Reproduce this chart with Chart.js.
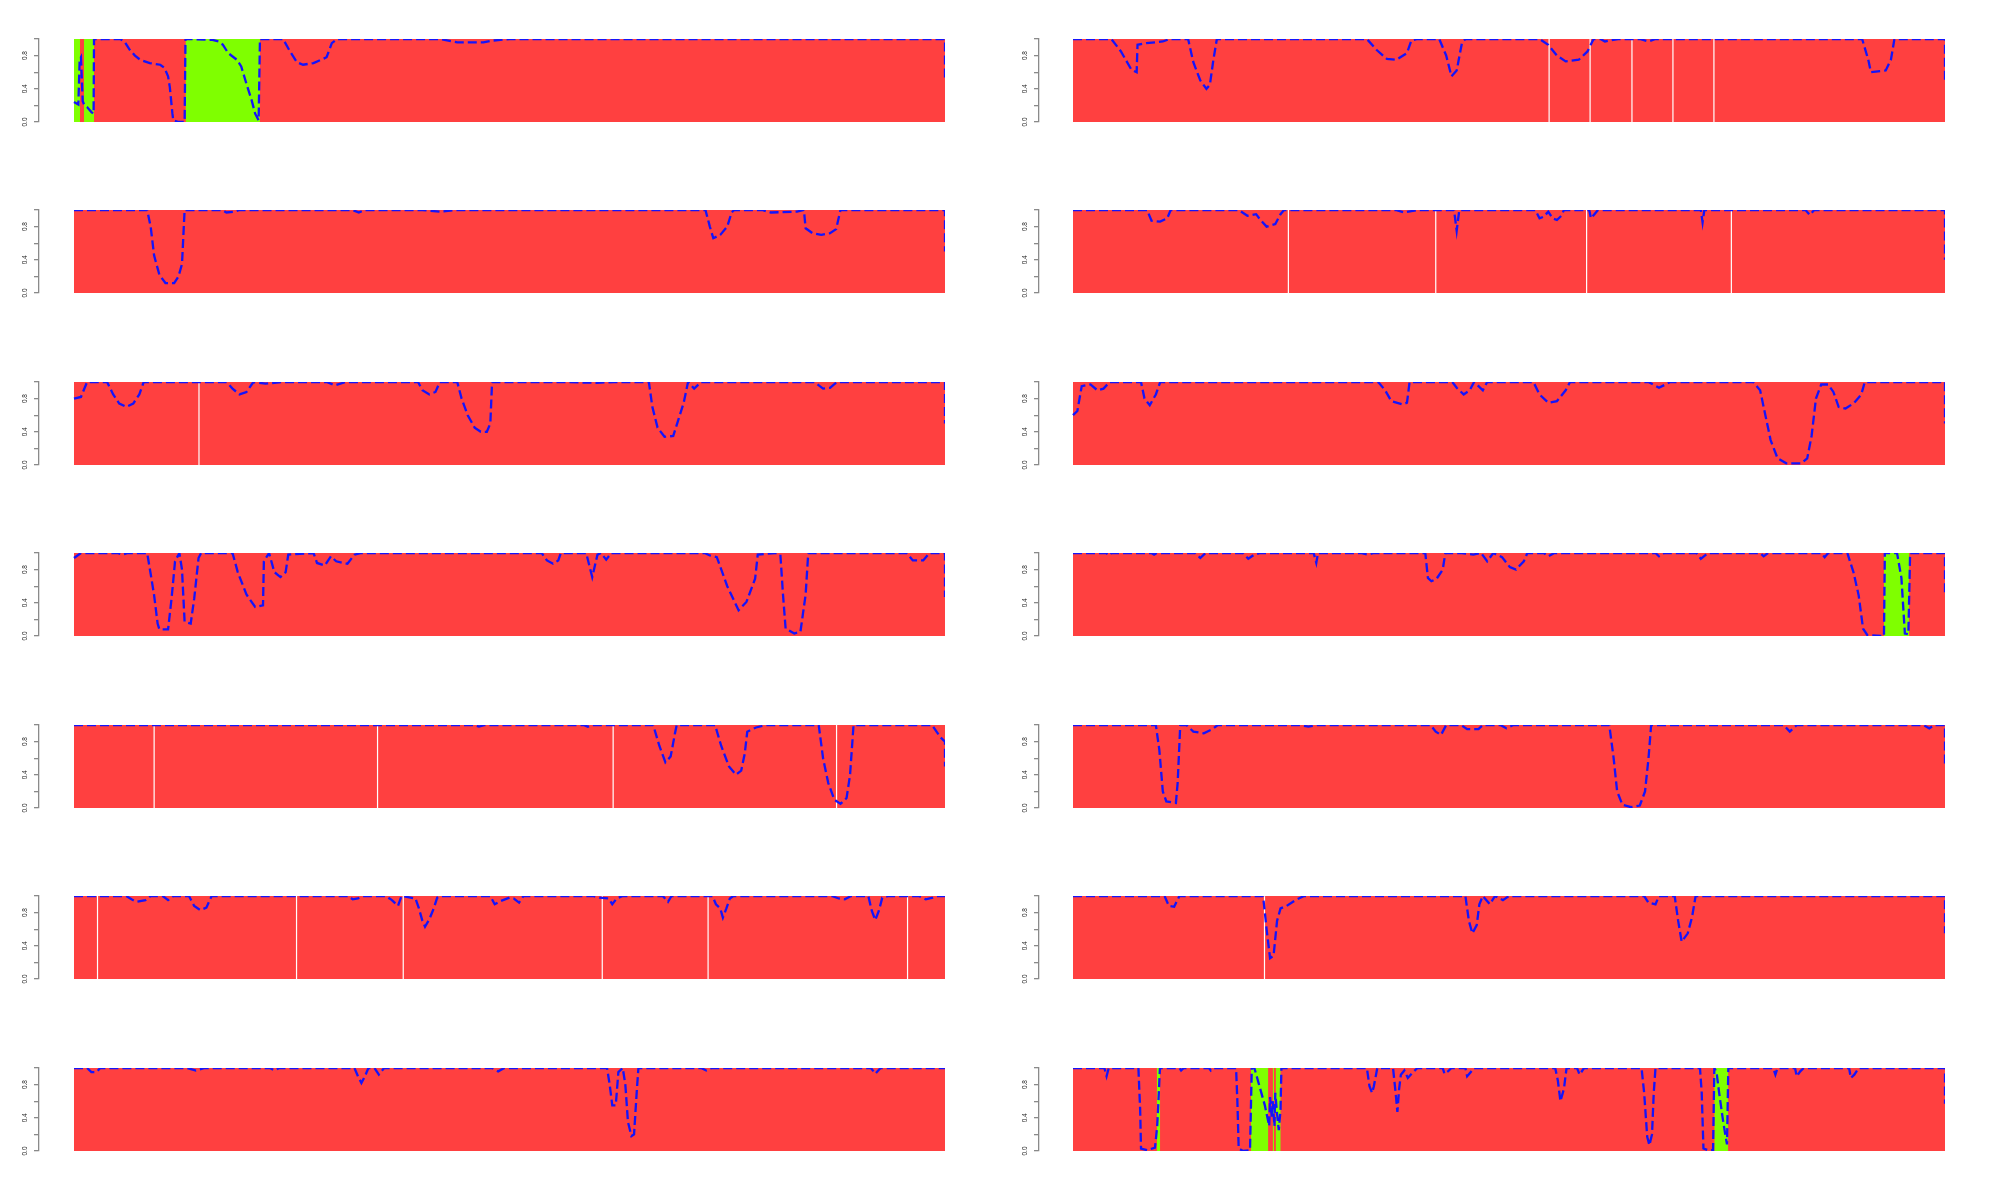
<!DOCTYPE html>
<html><head><meta charset="utf-8">
<script src="https://cdn.jsdelivr.net/npm/chart.js@4/dist/chart.umd.min.js"></script>
<style>
html,body{margin:0;padding:0;background:#fff;width:2000px;height:1200px;overflow:hidden}
canvas{position:absolute}
</style></head>
<body>
<script>
// ---------- data ----------
const yTickValues = [0, 0.2, 0.4, 0.6, 0.8, 1.0];
const yLabelValues = [0, 0.4, 0.8];
const yTickLabels = ['0.0', '0.4', '0.8'];

// panel 1 (row 1, left)
const p01Green = [[0,6.9],[11.5,23],[128,213.5]];
const p01White = [];
const p01Line = [[0,0.24],[5,0.21],[6.5,0.75],[8,0.78],[10,0.25],[12,0.2],[15,0.18],[20,0.12],[22.5,0.1],[23,1],[53,1],[58,0.97],[64,0.87],[70,0.8],[76,0.75],[87,0.71],[99,0.69],[104,0.65],[108,0.55],[110,0.42],[113,0.1],[114,0.02],[120,0],[127,0],[128,1],[159,0.99],[166,0.97],[171,0.93],[177,0.83],[187,0.75],[192,0.67],[198,0.46],[204,0.26],[208,0.1],[212,0.02],[213.5,1],[240,1],[248,0.85],[256,0.72],[263,0.69],[275,0.71],[290,0.78],[296,0.95],[302,1],[420,1],[440,0.96],[470,0.96],[480,0.98],[500,1],[1000,1],[1000,0.5]];

// panel 2 (row 1, right)
const p02Green = [];
const p02White = [546,593,641,688,735];
const p02Line = [[0,1],[44,1],[55,0.85],[67,0.63],[73,0.6],[74,0.93],[84,0.95],[103,0.97],[111,1],[132,1],[138,0.72],[146,0.5],[153,0.4],[157,0.45],[161,0.75],[165,1],[337,1],[348,0.87],[360,0.76],[371,0.75],[383,0.83],[388,0.98],[395,1],[420,1],[428,0.8],[434,0.55],[440,0.62],[446,0.95],[450,1],[535,1],[545,0.93],[555,0.8],[565,0.73],[580,0.75],[590,0.85],[597,1],[605,1],[610,0.97],[625,1],[650,1],[660,0.97],[668,1],[905,1],[912,0.75],[915,0.6],[932,0.62],[938,0.75],[942,1],[1000,1],[1000,0.5]];

// panel 3 (row 2, left)
const p03Green = [];
const p03White = [];
const p03Line = [[0,1],[84,1],[88,0.8],[92,0.45],[98,0.22],[105,0.12],[115,0.12],[120,0.2],[124,0.35],[127,1],[170,1],[175,0.97],[185,0.98],[190,1],[320,1],[327,0.97],[334,1],[400,1],[420,0.98],[440,1],[725,1],[730,0.8],[734,0.66],[742,0.7],[750,0.8],[755,0.97],[758,1],[790,1],[800,0.97],[830,0.98],[838,1],[840,0.78],[848,0.72],[858,0.7],[868,0.72],[875,0.77],[880,1],[1000,1],[1000,0.5]];

// panel 4 (row 2, right)
const p04Green = [];
const p04White = [247,416,589,755];
const p04Line = [[0,1],[85,1],[90,0.87],[100,0.86],[108,0.9],[112,1],[190,1],[200,0.93],[210,0.95],[215,0.88],[222,0.8],[232,0.83],[238,0.95],[242,1],[370,1],[380,0.97],[395,1],[437,1],[440,0.75],[443,1],[530,1],[535,0.9],[540,0.92],[545,0.98],[550,0.9],[555,0.88],[560,0.93],[563,1],[592,1],[594,0.9],[598,0.95],[602,1],[720,1],[722,0.85],[724,1],[840,1],[845,0.94],[850,1],[1000,1],[1000,0.4]];

// panel 5 (row 3, left)
const p05Green = [];
const p05White = [143.5];
const p05Line = [[0,0.8],[8,0.82],[15,1],[38,1],[45,0.85],[52,0.74],[60,0.7],[68,0.74],[75,0.85],[80,1],[175,1],[182,0.92],[190,0.85],[198,0.88],[206,1],[220,0.98],[240,1],[290,1],[300,0.96],[312,1],[395,1],[400,0.9],[408,0.85],[415,0.88],[420,1],[440,1],[445,0.8],[452,0.6],[460,0.45],[467,0.4],[474,0.4],[478,0.5],[480,1],[560,1],[600,0.99],[620,1],[660,1],[664,0.7],[670,0.45],[678,0.34],[688,0.35],[694,0.55],[700,0.75],[705,1],[712,0.92],[720,1],[850,1],[860,0.92],[868,0.93],[876,1],[1000,1],[1000,0.5]];

// panel 6 (row 3, right)
const p06Green = [];
const p06White = [];
const p06Line = [[0,0.6],[5,0.65],[10,0.95],[20,0.97],[28,0.9],[35,0.92],[42,1],[78,1],[82,0.8],[88,0.72],[95,0.85],[100,1],[350,1],[358,0.9],[365,0.77],[378,0.73],[383,0.75],[386,1],[435,1],[440,0.93],[448,0.85],[455,0.9],[460,1],[470,0.9],[475,1],[528,1],[535,0.85],[545,0.75],[555,0.77],[565,0.9],[570,1],[660,1],[672,0.93],[685,1],[780,1],[788,0.9],[794,0.6],[800,0.3],[808,0.08],[818,0.02],[835,0.02],[842,0.08],[847,0.35],[852,0.8],[858,0.97],[866,0.97],[872,0.88],[878,0.7],[886,0.68],[896,0.75],[904,0.85],[908,1],[1000,1],[1000,0.5]];

// panel 7 (row 4, left)
const p07Green = [];
const p07White = [];
const p07Line = [[0,0.94],[8,1],[50,1],[55,0.98],[62,1],[84,1],[88,0.75],[92,0.49],[96,0.15],[98,0.08],[108,0.08],[112,0.45],[116,0.9],[121,1],[124,0.8],[127,0.17],[134,0.15],[138,0.45],[143,0.94],[146,1],[182,1],[188,0.77],[198,0.5],[208,0.35],[217,0.37],[218,0.9],[224,1],[230,0.77],[237,0.71],[243,0.77],[246,0.98],[275,1],[279,0.88],[288,0.85],[295,0.96],[301,0.9],[314,0.87],[322,0.98],[330,1],[537,1],[543,0.91],[550,0.87],[556,0.91],[559,1],[588,1],[595,0.71],[601,0.98],[605,1],[611,0.92],[617,1],[724,1],[730,0.97],[738,0.95],[750,0.6],[763,0.31],[772,0.41],[782,0.69],[785,0.98],[805,1],[811,0.98],[814,0.5],[817,0.09],[827,0.03],[834,0.05],[840,0.5],[843,1],[956,1],[963,0.91],[975,0.91],[982,1],[1000,1],[1000,0.47]];

// panel 8 (row 4, right)
const p08Green = [[930,959]];
const p08White = [];
const p08Line = [[0,1],[38,1],[41,0.97],[44,1],[90,1],[93,0.98],[96,1],[140,1],[146,0.94],[152,1],[195,1],[201,0.93],[208,0.98],[215,1],[276,1],[279,0.88],[281,1],[330,1],[338,0.98],[345,1],[404,1],[407,0.7],[411,0.66],[417,0.69],[424,0.8],[427,1],[446,1],[459,0.98],[468,1],[475,0.9],[482,1],[492,0.95],[501,0.83],[508,0.8],[517,0.9],[521,1],[540,1],[545,0.96],[552,1],[668,1],[672,0.96],[678,1],[715,1],[720,0.93],[728,1],[788,1],[792,0.96],[797,1],[858,1],[862,0.95],[866,1],[888,1],[895,0.77],[901,0.49],[906,0.09],[911,0.01],[928,0],[930,0],[931,1],[945,1],[950,0.7],[954,0.03],[958,0.02],[960,1],[1000,1],[1000,0.49]];

// panel 9 (row 5, left)
const p09Green = [];
const p09White = [92,348.5,619,875.5];
const p09Line = [[0,1],[460,1],[465,0.98],[472,1],[585,1],[590,0.98],[595,1],[665,1],[672,0.75],[679,0.55],[685,0.62],[690,0.9],[692,1],[736,1],[743,0.75],[752,0.5],[760,0.4],[766,0.45],[770,0.65],[773,0.92],[783,0.97],[795,1],[855,1],[860,0.6],[866,0.3],[873,0.1],[880,0.05],[887,0.12],[891,0.4],[895,1],[985,1],[995,0.85],[1000,0.8],[1000,0.5]];

// panel 10 (row 5, right)
const p10Green = [];
const p10White = [];
const p10Line = [[0,1],[95,1],[99,0.7],[103,0.2],[107,0.08],[118,0.06],[120,0.3],[123,1],[130,1],[138,0.92],[150,0.9],[160,0.95],[166,1],[260,1],[270,0.98],[280,1],[410,1],[416,0.92],[422,0.88],[428,1],[445,1],[452,0.95],[465,0.95],[470,1],[490,1],[497,0.96],[505,1],[615,1],[620,0.6],[624,0.2],[630,0.04],[640,0.01],[650,0.03],[656,0.2],[660,0.6],[663,1],[815,1],[822,0.92],[830,1],[975,1],[982,0.96],[988,1],[1000,1],[1000,0.5]];

// panel 11 (row 6, left)
const p11Green = [];
const p11White = [27,255.5,378,606.5,728,957];
const p11Line = [[0,1],[60,1],[66,0.96],[72,0.93],[82,0.95],[88,1],[102,1],[108,0.95],[114,1],[132,1],[138,0.88],[145,0.83],[152,0.86],[158,1],[315,1],[320,0.96],[326,0.97],[332,1],[358,1],[365,0.95],[372,0.88],[376,1],[392,0.97],[396,0.85],[400,0.7],[403,0.63],[408,0.72],[413,0.85],[417,0.98],[421,1],[478,1],[483,0.9],[490,0.94],[500,0.98],[505,0.97],[511,0.92],[516,1],[596,1],[603,0.98],[614,0.97],[618,0.9],[623,0.97],[630,1],[676,1],[682,0.93],[686,1],[733,1],[737,0.9],[742,0.85],[745,0.74],[749,0.85],[753,0.97],[757,1],[870,1],[878,0.97],[885,0.96],[892,1],[912,1],[916,0.82],[920,0.71],[924,0.82],[928,0.98],[935,1],[970,1],[978,0.96],[986,0.98],[992,1],[1000,1]];

// panel 12 (row 6, right)
const p12Green = [];
const p12White = [219.6];
const p12Line = [[0,1],[105,1],[110,0.88],[116,0.87],[122,1],[218,1],[222,0.6],[226,0.25],[230,0.28],[234,0.7],[238,0.85],[245,0.88],[255,0.95],[265,1],[450,1],[454,0.7],[458,0.55],[463,0.65],[466,0.9],[470,1],[478,0.9],[484,1],[493,0.95],[500,1],[655,1],[660,0.92],[668,0.9],[672,1],[690,1],[694,0.7],[698,0.45],[705,0.55],[710,0.75],[714,1],[1000,1],[1000,0.55]];

// panel 13 (row 7, left)
const p13Green = [];
const p13White = [];
const p13Line = [[0,1],[15,1],[20,0.95],[26,0.95],[30,1],[130,1],[140,0.97],[150,1],[225,1],[230,0.97],[236,1],[322,1],[326,0.9],[330,0.82],[334,0.9],[338,1],[345,1],[350,0.92],[356,1],[480,1],[487,0.96],[494,1],[612,1],[615,0.8],[618,0.55],[622,0.55],[625,0.95],[630,1],[633,0.8],[636,0.35],[640,0.18],[643,0.2],[646,0.7],[648,1],[720,1],[726,0.97],[732,1],[915,1],[920,0.93],[926,1],[1000,1]];

// panel 14 (row 7, right)
const p14Green = [[96,100],[204,224],[229,230.5],[232.4,238.2],[735.4,751.5]];
const p14White = [];
const p14Line = [[0,1],[36,1],[38.5,0.9],[41,1],[75,1],[77,0.5],[78,0.03],[85,0.01],[94,0.04],[96.5,0.29],[98,0.6],[99.7,1],[122,1],[124,0.97],[127,1],[156,1],[158,0.97],[161,1],[187,1],[188.5,0.6],[190,0.03],[195,0],[203,0.01],[205,1],[208,1],[212,0.85],[216,0.7],[220,0.55],[223,0.4],[225,0.3],[226,0.65],[228,0.4],[229,0.6],[231,0.3],[232,0.7],[234,0.45],[236,0.25],[238,0.5],[239,1],[337,1],[340,0.78],[343,0.7],[345,0.78],[349,1],[367,1],[370,0.7],[372,0.47],[374,0.75],[376,0.92],[380,0.97],[384,0.88],[390,0.95],[395,1],[424,1],[426,0.93],[430,0.96],[434,1],[450,1],[452,0.9],[456,0.95],[460,1],[553,1],[556,0.85],[559,0.6],[563,0.75],[566,1],[578,1],[581,0.92],[586,1],[652,1],[655,0.7],[658.5,0.17],[661,0.07],[664,0.2],[666,0.7],[668,1],[719,1],[721,0.7],[723,0.03],[728,0.01],[734,0.01],[735.5,1],[738,0.95],[741,0.7],[745,0.4],[748,0.2],[750,0.08],[751.5,1],[803,1],[805.5,0.92],[808,1],[828,1],[830,0.9],[834,0.96],[838,1],[890,1],[892,0.88],[896,0.92],[901,1],[1000,1],[1000,0.57]];

// ---------- build ----------
const panelLines  = [p01Line,p02Line,p03Line,p04Line,p05Line,p06Line,p07Line,p08Line,p09Line,p10Line,p11Line,p12Line,p13Line,p14Line];
const panelGreens = [p01Green,p02Green,p03Green,p04Green,p05Green,p06Green,p07Green,p08Green,p09Green,p10Green,p11Green,p12Green,p13Green,p14Green];
const panelWhites = [p01White,p02White,p03White,p04White,p05White,p06White,p07White,p08White,p09White,p10White,p11White,p12White,p13White,p14White];

const RED = '#FF4040', GREEN = '#7FFF00', BLUE = 'rgb(20,20,250)';
const rowTops = [39, 210, 382, 553, 725, 896, 1068];
const CW = 955, CH = 103, PAD = 10;

Chart.defaults.font.family = '"Liberation Sans", Arial, sans-serif';

panelLines.forEach((lineData, i) => {
  const row = Math.floor(i / 2), col = i % 2;
  const cv = document.createElement('canvas');
  cv.width = CW; cv.height = CH;
  cv.style.left = (col === 0 ? 0 : 1000) + 'px';
  cv.style.top = (rowTops[row] - PAD) + 'px';
  document.body.appendChild(cv);
  const xMin = col === 0 ? -40.18 : -38.99;

  const datasets = [];
  datasets.push({ data: [{x:0,y:1},{x:1000,y:1}], fill: 'origin', backgroundColor: RED, borderColor: RED, borderWidth: 0.01, pointRadius: 0, order: 4 });
  panelGreens[i].forEach(s => datasets.push({ data: [{x:s[0],y:1},{x:s[1],y:1}], fill: 'origin', backgroundColor: GREEN, borderColor: GREEN, borderWidth: 0.01, pointRadius: 0, order: 3 }));
  panelWhites[i].forEach(w => datasets.push({ data: [{x:w,y:0},{x:w,y:1}], fill: false, borderColor: '#ffffff', borderWidth: 1.2, pointRadius: 0, order: 2 }));
  datasets.push({ data: lineData.map(p => ({x:p[0], y:p[1]})), fill: false, borderColor: BLUE, borderWidth: 2.3, borderDash: [9,4], borderCapStyle: 'butt', pointRadius: 0, tension: 0, order: 0 });

  new Chart(cv, {
    type: 'line',
    data: { datasets },
    options: {
      responsive: false, animation: false, devicePixelRatio: 1,
      layout: { padding: { left: 0, right: PAD, top: PAD, bottom: PAD } },
      plugins: { legend: { display: false }, tooltip: { enabled: false } },
      scales: {
        x: { type: 'linear', min: xMin, max: 1000, display: false },
        y: {
          type: 'linear', min: 0, max: 1,
          afterBuildTicks: s => { s.ticks = yTickValues.map(v => ({ value: v })); },
          afterFit: s => { s.width = 39; },
          ticks: {
            autoSkip: false, minRotation: 90, maxRotation: 90, crossAlign: 'center', padding: 4,
            color: '#222', font: { size: 6.5 },
            callback: v => { const k = yLabelValues.indexOf(v); return k >= 0 ? yTickLabels[k] : ''; }
          },
          grid: { drawOnChartArea: false, drawTicks: true, tickLength: 5, color: '#8a8a8a', lineWidth: 1.3 },
          border: { display: true, color: '#8a8a8a', width: 1.3 }
        }
      }
    }
  });
});
</script>
</body></html>
